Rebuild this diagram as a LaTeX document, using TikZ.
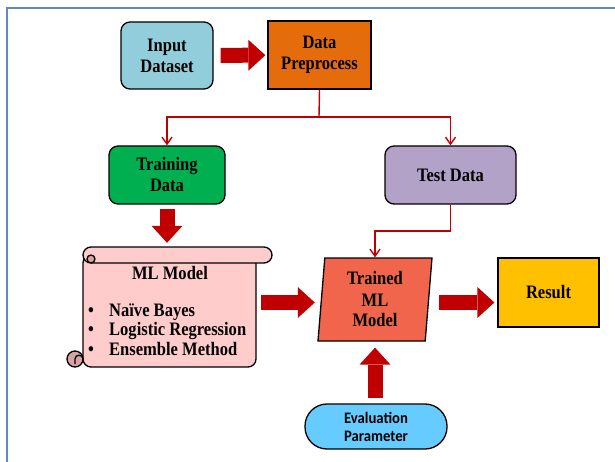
\documentclass[tikz,border=0pt]{standalone}
\usepackage{fontspec}
\setmainfont{Liberation Serif}[FakeStretch=0.87]
\newfontfamily\evalfont{Carlito}[FakeStretch=0.92]
\usetikzlibrary{arrows.meta,shapes.geometric}
\definecolor{inputblue}{HTML}{92CDDC}
\definecolor{prepor}{HTML}{E46C0A}
\definecolor{traingreen}{HTML}{00B050}
\definecolor{testlav}{HTML}{B3A2C7}
\definecolor{mlpink}{HTML}{FFCCCC}
\definecolor{mlcurl}{HTML}{D9A3A3}
\definecolor{trainedred}{HTML}{F0654B}
\definecolor{resultyel}{HTML}{FFC000}
\definecolor{evalblue}{HTML}{66CCFF}
\definecolor{arrowred}{HTML}{C00000}
\definecolor{framebl}{HTML}{5B8CC8}
\begin{document}
\begin{tikzpicture}[
        x=1pt, y=-1pt,
        block/.style={draw, line width=1.3pt, align=center, inner sep=0pt,
            font=\bfseries\fontsize{19}{21}\selectfont},
        roundblock/.style={block, rounded corners=9pt},
        bigarrow/.style={draw=arrowred, line width=15pt,
            -{Triangle[length=17pt, width=31pt, line width=0pt]}},
        thinarrow/.style={draw=arrowred, line width=1.4pt,
            -{Straight Barb[length=7pt, width=10pt]}},
        scroll/.style={draw, line width=1.3pt, fill=mlpink}
    ]
        \useasboundingbox (0,0) rectangle (615,462);
        \draw[framebl, line width=2.4pt] (7,462) -- (7,8) -- (615,8);

        \node[roundblock, fill=inputblue, minimum width=92pt, minimum height=67pt] (input) at (167,55.5) {Input\\Dataset};
        \node[block, fill=prepor, minimum width=103pt, minimum height=68pt] (prep) at (319.5,55) {Data\\Preprocess};
        \node[roundblock, fill=traingreen, minimum width=116pt, minimum height=58pt] (train) at (167,175) {Training\\Data};
        \node[roundblock, fill=testlav, minimum width=131pt, minimum height=58pt] (test) at (450.5,175) {Test Data};

        % scroll for the model list
        \draw[scroll, rounded corners=8pt] (83,255) rectangle (256,367);
        \draw[scroll, rounded corners=8pt] (83,247) rectangle (272,263);
        \draw[scroll, fill=mlcurl] (91,259) circle (4pt);
        \draw[scroll, fill=mlcurl] (75,359) circle (8pt);
        \draw[line width=1.3pt] (83,359) .. controls (83,354) and (75,354) .. (75,359) -- (75,364);
        \node[inner sep=0pt, minimum width=173pt, minimum height=120pt] (mlm) at (169.5,307) {};
        \node[font=\bfseries\fontsize{19}{21}\selectfont] (mltitle) at (170,273) {ML Model};
        \node[font=\bfseries\fontsize{19}{19.5}\selectfont, align=left, anchor=west, inner sep=0pt] (mllist) at (88,329.5)
            {\makebox[21pt][l]{\textbullet}Naïve Bayes\\
             \makebox[21pt][l]{\textbullet}Logistic Regression\\
             \makebox[21pt][l]{\textbullet}Ensemble Method};

        \node[block, trapezium, trapezium left angle=83, trapezium right angle=97, trapezium stretches body,
            fill=trainedred, minimum width=114pt, minimum height=83pt] (trained) at (375,299.5) {Trained\\ML\\Model};
        \node[block, fill=resultyel, minimum width=101pt, minimum height=69pt] (result) at (548.5,292.5) {Result};
        \node[block, fill=evalblue, rounded corners=22pt, minimum width=142pt, minimum height=45pt,
            font=\evalfont\bfseries\fontsize{16}{18}\selectfont] (eval) at (376,426.5) {Evaluation\\Parameter};

        \coordinate (split) at (319,117);
        \coordinate (tbend) at (0,231);
        \coordinate (rowy) at (0,302.5);

        \draw[bigarrow, shorten <=7pt, shorten >=2pt] (input) -- (prep);
        \draw[arrowred, line width=1.4pt] (prep.south) -- (split);
        \draw[thinarrow] (split) -| (train.north);
        \draw[thinarrow] (split) -| (test.north);
        \draw[bigarrow, shorten <=4pt, shorten >=4pt] (train.south) -- (mlm.north -| train.south);
        \draw[thinarrow] (test.south) |- (tbend -| trained.north) -- (trained.north);
        \draw[bigarrow, shorten <=5pt, shorten >=6pt] (mlm.east |- rowy) -- (trained.west |- rowy);
        \draw[bigarrow, shorten <=10pt, shorten >=3pt] (trained.east |- rowy) -- (result.west |- rowy);
        \draw[bigarrow, shorten <=5pt, shorten >=6pt] (eval.north -| trained.south) -- (trained.south);
    \end{tikzpicture}
\end{document}
